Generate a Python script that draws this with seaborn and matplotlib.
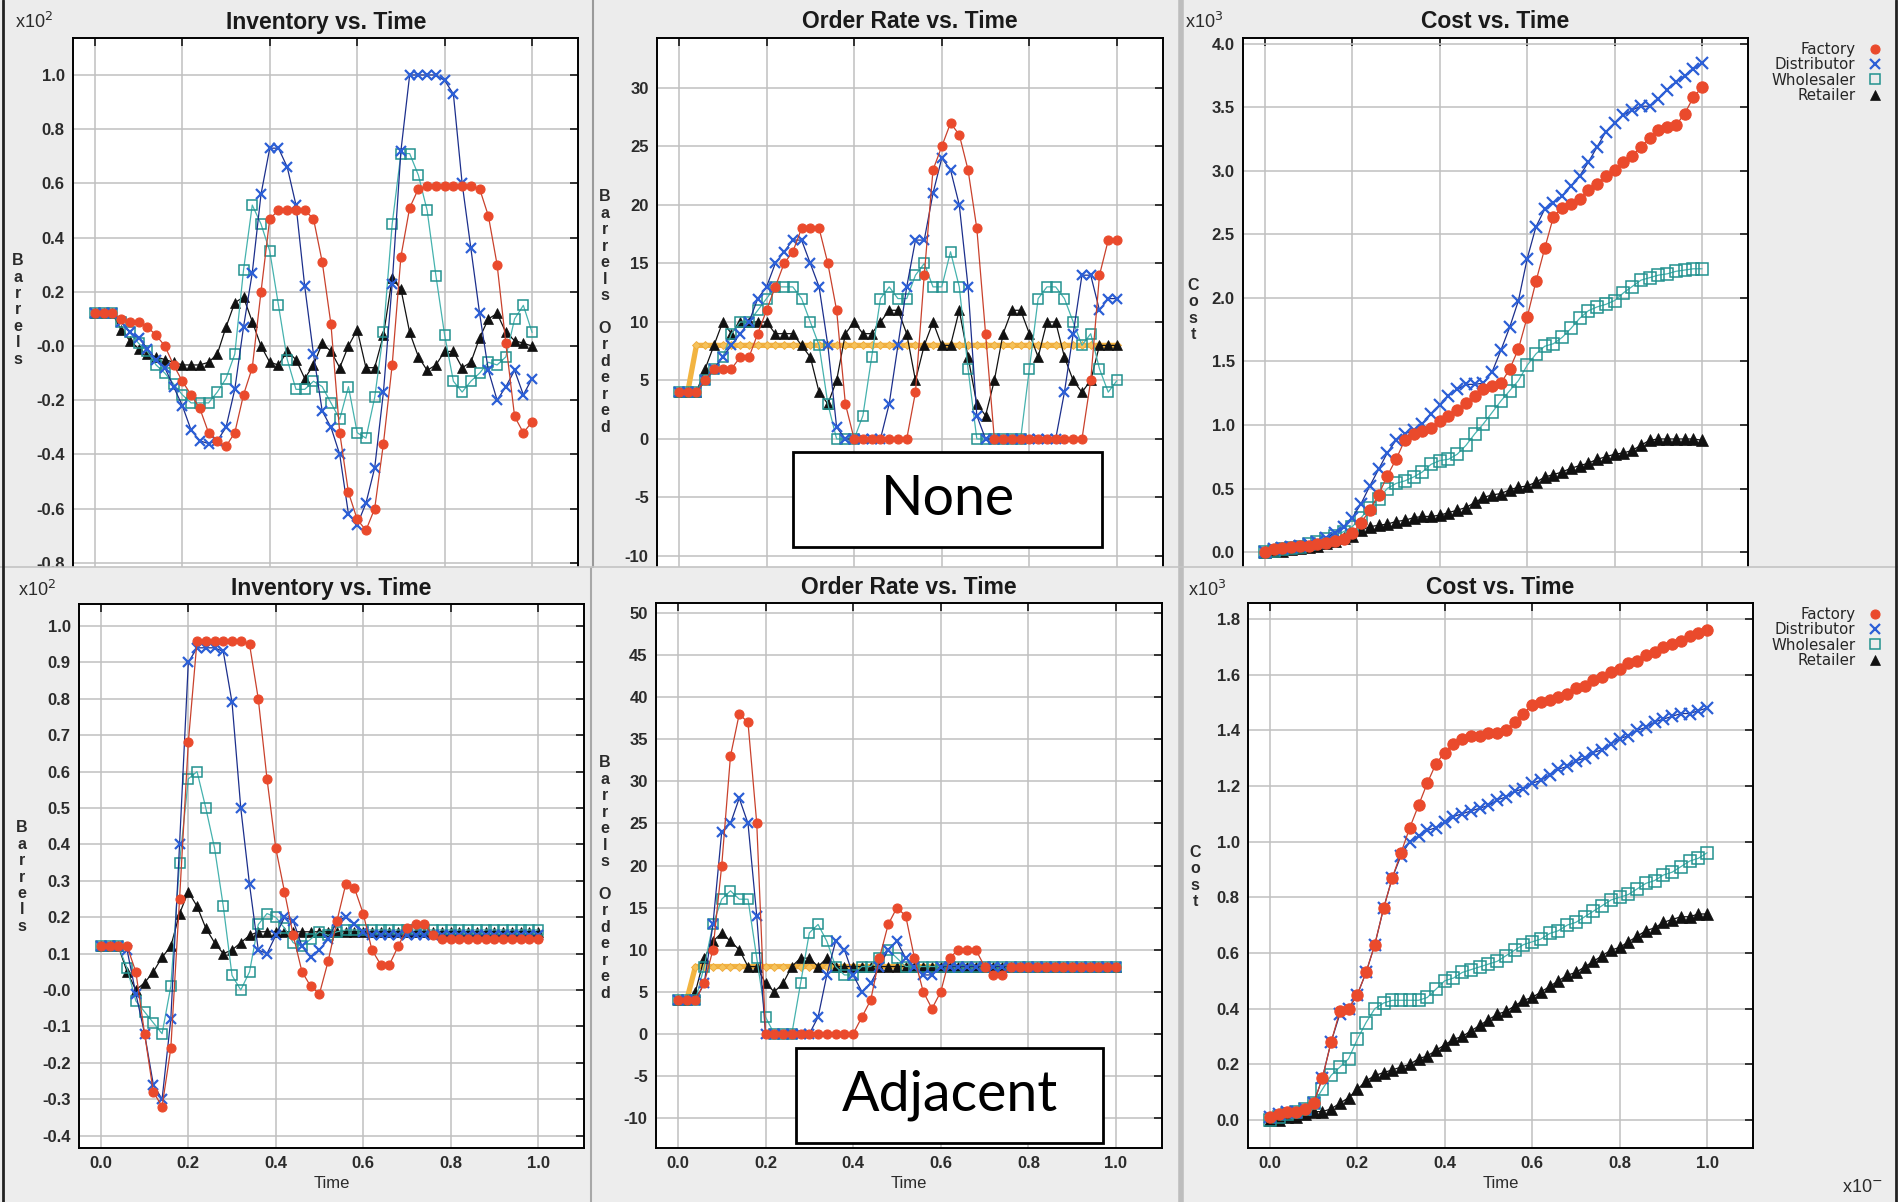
import matplotlib
matplotlib.use("Agg")
import matplotlib.pyplot as plt
from matplotlib.lines import Line2D
from matplotlib.patches import Rectangle
import seaborn as sns

W, H = 1899, 1202

TIME = [0.00, 0.02, 0.04, 0.06, 0.08, 0.10, 0.12, 0.14, 0.16, 0.18,
        0.20, 0.22, 0.24, 0.26, 0.28, 0.30, 0.32, 0.34, 0.36, 0.38,
        0.40, 0.42, 0.44, 0.46, 0.48, 0.50, 0.52, 0.54, 0.56, 0.58,
        0.60, 0.62, 0.64, 0.66, 0.68, 0.70, 0.72, 0.74, 0.76, 0.78,
        0.80, 0.82, 0.84, 0.86, 0.88, 0.90, 0.92, 0.94, 0.96, 0.98, 1.00]

# ---- scenario "None": inventory (x10^2 barrels) ----
NONE_INV_FACTORY = [0.12, 0.12, 0.12, 0.10, 0.09, 0.09, 0.07, 0.04, 0.00, -0.07,
                    -0.13, -0.18, -0.23, -0.32, -0.35, -0.37, -0.32, -0.18, -0.08, 0.20,
                    0.47, 0.50, 0.50, 0.50, 0.50, 0.47, 0.31, 0.08, -0.32, -0.54,
                    -0.64, -0.68, -0.60, -0.36, -0.07, 0.33, 0.51, 0.58, 0.59, 0.59,
                    0.59, 0.59, 0.59, 0.59, 0.58, 0.48, 0.30, 0.01, -0.26, -0.32, -0.28]
NONE_INV_DISTRIB = [0.12, 0.12, 0.12, 0.09, 0.05, 0.03, -0.01, -0.05, -0.08, -0.15,
                    -0.22, -0.31, -0.35, -0.36, -0.35, -0.30, -0.16, 0.07, 0.27, 0.56,
                    0.73, 0.73, 0.66, 0.52, 0.22, -0.03, -0.24, -0.30, -0.40, -0.62,
                    -0.66, -0.58, -0.45, -0.17, 0.23, 0.72, 1.00, 1.00, 1.00, 1.00,
                    0.98, 0.93, 0.60, 0.36, 0.12, -0.09, -0.20, -0.15, -0.09, -0.18, -0.12]
NONE_INV_WHOLESALE = [0.12, 0.12, 0.12, 0.09, 0.05, 0.01, -0.02, -0.07, -0.10, -0.14,
                      -0.18, -0.21, -0.21, -0.21, -0.17, -0.12, -0.03, 0.28, 0.52, 0.45,
                      0.35, 0.15, -0.05, -0.16, -0.16, -0.13, -0.15, -0.21, -0.27, -0.15,
                      -0.32, -0.34, -0.19, 0.05, 0.45, 0.71, 0.71, 0.63, 0.50, 0.26,
                      0.04, -0.13, -0.17, -0.13, -0.10, -0.06, -0.07, -0.04, 0.10, 0.15, 0.05]
NONE_INV_RETAIL = [0.12, 0.12, 0.12, 0.06, 0.02, -0.01, -0.03, -0.04, -0.05, -0.06,
                   -0.07, -0.07, -0.07, -0.06, -0.03, 0.07, 0.16, 0.18, 0.09, 0.00,
                   -0.06, -0.07, -0.02, -0.05, -0.12, -0.07, 0.01, -0.02, -0.08, 0.00,
                   0.06, -0.08, -0.08, 0.04, 0.25, 0.21, 0.05, -0.04, -0.09, -0.07,
                   -0.02, -0.02, -0.08, -0.06, 0.03, 0.10, 0.12, 0.05, 0.02, 0.01, 0.00]

# ---- scenario "None": order rate (barrels ordered) ----
NONE_ORD_FACTORY = [4, 4, 4, 5, 6, 6, 6, 7, 7, 9,
                    11, 13, 15, 16, 18, 18, 18, 15, 11, 3,
                    0, 0, 0, 0, 0, 0, 0, 4, 14, 23,
                    25, 27, 26, 23, 18, 9, 0, 0, 0, 0,
                    0, 0, 0, 0, 0, 0, 0, 5, 14, 17, 17]
NONE_ORD_DISTRIB = [4, 4, 4, 5, 6, 7, 8, 9, 10, 12,
                    13, 15, 16, 17, 17, 15, 13, 8, 1, 0,
                    0, 0, 0, 0, 3, 8, 13, 17, 17, 21,
                    24, 23, 20, 13, 2, 0, 0, 0, 0, 0,
                    0, 0, 0, 0, 4, 9, 14, 14, 11, 12, 12]
NONE_ORD_WHOLESALE = [4, 4, 4, 5, 6, 7, 9, 10, 10, 11,
                      12, 13, 13, 13, 12, 10, 8, 3, 0, 0,
                      0, 2, 7, 12, 13, 12, 12, 14, 15, 13,
                      13, 16, 13, 6, 0, 0, 0, 0, 0, 0,
                      6, 12, 13, 13, 12, 10, 8, 9, 6, 4, 5]
NONE_ORD_RETAIL = [4, 4, 4, 6, 8, 10, 9, 10, 10, 10,
                   10, 9, 9, 9, 8, 7, 4, 3, 5, 9,
                   10, 9, 9, 10, 11, 11, 9, 5, 8, 10,
                   8, 8, 11, 7, 3, 2, 5, 9, 11, 11,
                   9, 7, 10, 10, 7, 5, 4, 5, 8, 8, 8]

# ---- scenario "None": cost (x10^3) ----
NONE_COST_FACTORY = [0.00, 0.02, 0.03, 0.04, 0.05, 0.05, 0.06, 0.07, 0.09, 0.10,
                     0.15, 0.23, 0.33, 0.45, 0.60, 0.73, 0.88, 0.93, 0.95, 0.98,
                     1.03, 1.07, 1.12, 1.17, 1.23, 1.28, 1.31, 1.33, 1.44, 1.60,
                     1.85, 2.13, 2.39, 2.64, 2.71, 2.74, 2.78, 2.85, 2.90, 2.96,
                     3.01, 3.07, 3.12, 3.19, 3.26, 3.32, 3.35, 3.36, 3.45, 3.58, 3.66]
NONE_COST_DISTRIB = [0.00, 0.02, 0.03, 0.04, 0.05, 0.06, 0.08, 0.11, 0.15, 0.20,
                     0.27, 0.38, 0.52, 0.65, 0.78, 0.88, 0.93, 0.96, 1.01, 1.09,
                     1.16, 1.23, 1.28, 1.32, 1.32, 1.33, 1.42, 1.59, 1.77, 1.98,
                     2.31, 2.56, 2.70, 2.75, 2.80, 2.88, 2.96, 3.07, 3.19, 3.31,
                     3.38, 3.44, 3.48, 3.51, 3.51, 3.57, 3.64, 3.70, 3.75, 3.80, 3.85]
NONE_COST_WHOLESALE = [0.00, 0.01, 0.02, 0.03, 0.04, 0.06, 0.08, 0.10, 0.13, 0.16,
                       0.20, 0.27, 0.35, 0.42, 0.50, 0.54, 0.56, 0.59, 0.63, 0.69,
                       0.72, 0.73, 0.77, 0.84, 0.93, 1.01, 1.10, 1.19, 1.27, 1.35,
                       1.47, 1.56, 1.62, 1.64, 1.69, 1.76, 1.84, 1.90, 1.93, 1.95,
                       1.98, 2.04, 2.09, 2.14, 2.16, 2.18, 2.19, 2.21, 2.22, 2.23, 2.23]
NONE_COST_RETAIL = [0.00, 0.01, 0.01, 0.02, 0.03, 0.04, 0.05, 0.07, 0.09, 0.11,
                    0.13, 0.17, 0.20, 0.21, 0.22, 0.24, 0.25, 0.27, 0.28, 0.28,
                    0.29, 0.31, 0.33, 0.35, 0.39, 0.43, 0.45, 0.46, 0.49, 0.51,
                    0.52, 0.55, 0.59, 0.61, 0.63, 0.66, 0.68, 0.70, 0.73, 0.75,
                    0.77, 0.78, 0.80, 0.84, 0.88, 0.89, 0.89, 0.89, 0.89, 0.89, 0.88]

# ---- scenario "Adjacent": inventory (x10^2 barrels) ----
ADJ_INV_FACTORY = [0.12, 0.12, 0.12, 0.12, 0.05, -0.12, -0.28, -0.32, -0.16, 0.25,
                   0.68, 0.96, 0.96, 0.96, 0.96, 0.96, 0.96, 0.95, 0.80, 0.58,
                   0.39, 0.27, 0.15, 0.05, 0.01, -0.01, 0.08, 0.19, 0.29, 0.28,
                   0.21, 0.11, 0.07, 0.07, 0.12, 0.17, 0.18, 0.18, 0.15, 0.14,
                   0.14, 0.14, 0.14, 0.14, 0.14, 0.14, 0.14, 0.14, 0.14, 0.14, 0.14]
ADJ_INV_DISTRIB = [0.12, 0.12, 0.12, 0.11, -0.01, -0.12, -0.26, -0.30, -0.08, 0.40,
                   0.90, 0.94, 0.94, 0.94, 0.93, 0.79, 0.50, 0.29, 0.11, 0.10,
                   0.15, 0.20, 0.19, 0.12, 0.09, 0.11, 0.14, 0.19, 0.20, 0.18,
                   0.16, 0.15, 0.15, 0.15, 0.15, 0.15, 0.15, 0.15, 0.15, 0.15,
                   0.15, 0.15, 0.15, 0.15, 0.15, 0.15, 0.15, 0.15, 0.15, 0.15, 0.15]
ADJ_INV_WHOLESALE = [0.12, 0.12, 0.12, 0.06, -0.03, -0.06, -0.09, -0.12, 0.01, 0.35,
                     0.58, 0.60, 0.50, 0.39, 0.23, 0.04, 0.00, 0.05, 0.18, 0.21,
                     0.20, 0.17, 0.13, 0.12, 0.14, 0.16, 0.15, 0.16, 0.165, 0.165,
                     0.165, 0.165, 0.165, 0.165, 0.165, 0.165, 0.165, 0.165, 0.165, 0.165,
                     0.165, 0.165, 0.165, 0.165, 0.165, 0.165, 0.165, 0.165, 0.165, 0.165, 0.165]
ADJ_INV_RETAIL = [0.12, 0.12, 0.12, 0.05, 0.00, 0.02, 0.05, 0.09, 0.12, 0.21,
                  0.27, 0.23, 0.17, 0.13, 0.10, 0.11, 0.13, 0.15, 0.16, 0.16,
                  0.16, 0.16, 0.16, 0.16, 0.16, 0.16, 0.16, 0.16, 0.16, 0.16,
                  0.16, 0.16, 0.16, 0.16, 0.16, 0.16, 0.16, 0.16, 0.16, 0.16,
                  0.16, 0.16, 0.16, 0.16, 0.16, 0.16, 0.16, 0.16, 0.16, 0.16, 0.16]

# ---- scenario "Adjacent": order rate ----
ADJ_ORD_FACTORY = [4, 4, 4, 6, 10, 20, 33, 38, 37, 25,
                   0, 0, 0, 0, 0, 0, 0, 0, 0, 0,
                   0, 2, 4, 9, 13, 15, 14, 9, 5, 3,
                   5, 9, 10, 10, 10, 8, 7, 7, 8, 8,
                   8, 8, 8, 8, 8, 8, 8, 8, 8, 8, 8]
ADJ_ORD_DISTRIB = [4, 4, 4, 6, 13, 24, 25, 28, 25, 14,
                   0, 0, 0, 0, 0, 0, 2, 7, 11, 10,
                   7, 5, 6, 8, 10, 11, 9, 8, 7, 7,
                   8, 8, 8, 8, 8, 8, 8, 8, 8, 8,
                   8, 8, 8, 8, 8, 8, 8, 8, 8, 8, 8]
ADJ_ORD_WHOLESALE = [4, 4, 4, 8, 13, 16, 17, 16, 16, 9,
                     2, 0, 0, 0, 6, 12, 13, 11, 8, 7,
                     7, 8, 8, 9, 10, 9, 8, 8, 8, 8,
                     8, 8, 8, 8, 8, 8, 8, 8, 8, 8,
                     8, 8, 8, 8, 8, 8, 8, 8, 8, 8, 8]
ADJ_ORD_RETAIL = [4, 4, 5, 9, 11, 12, 11, 10, 8, 8,
                  6, 5, 6, 8, 9, 9, 8, 9, 8, 8,
                  8, 8, 8, 8, 8, 8, 8, 8, 8, 8,
                  8, 8, 8, 8, 8, 8, 8, 8, 8, 8,
                  8, 8, 8, 8, 8, 8, 8, 8, 8, 8, 8]

# customer demand (orange line) in both order-rate panels
CUSTOMER_DEMAND = [4, 4, 8, 8, 8, 8, 8, 8, 8, 8,
                   8, 8, 8, 8, 8, 8, 8, 8, 8, 8,
                   8, 8, 8, 8, 8, 8, 8, 8, 8, 8,
                   8, 8, 8, 8, 8, 8, 8, 8, 8, 8,
                   8, 8, 8, 8, 8, 8, 8, 8, 8, 8, 8]

# ---- scenario "Adjacent": cost (x10^3) ----
ADJ_COST_FACTORY = [0.01, 0.02, 0.03, 0.03, 0.04, 0.06, 0.15, 0.28, 0.39, 0.40,
                    0.45, 0.53, 0.63, 0.76, 0.87, 0.96, 1.05, 1.13, 1.21, 1.28,
                    1.32, 1.35, 1.37, 1.38, 1.38, 1.39, 1.39, 1.40, 1.43, 1.46,
                    1.49, 1.50, 1.51, 1.52, 1.53, 1.55, 1.56, 1.58, 1.59, 1.61,
                    1.62, 1.64, 1.65, 1.67, 1.68, 1.70, 1.71, 1.72, 1.74, 1.75, 1.76]
ADJ_COST_DISTRIB = [0.01, 0.02, 0.03, 0.03, 0.04, 0.06, 0.15, 0.28, 0.38, 0.40,
                    0.45, 0.53, 0.63, 0.76, 0.87, 0.95, 1.00, 1.02, 1.04, 1.05,
                    1.07, 1.09, 1.10, 1.11, 1.12, 1.13, 1.15, 1.16, 1.18, 1.19,
                    1.21, 1.22, 1.24, 1.26, 1.27, 1.29, 1.30, 1.32, 1.33, 1.35,
                    1.37, 1.38, 1.40, 1.41, 1.43, 1.44, 1.45, 1.46, 1.46, 1.47, 1.48]
ADJ_COST_WHOLESALE = [0.00, 0.01, 0.02, 0.03, 0.04, 0.06, 0.11, 0.16, 0.19, 0.22,
                      0.29, 0.35, 0.40, 0.42, 0.43, 0.43, 0.43, 0.43, 0.44, 0.47,
                      0.50, 0.51, 0.53, 0.54, 0.55, 0.56, 0.57, 0.59, 0.61, 0.63,
                      0.64, 0.65, 0.67, 0.68, 0.70, 0.71, 0.73, 0.75, 0.77, 0.79,
                      0.80, 0.81, 0.83, 0.85, 0.86, 0.88, 0.89, 0.91, 0.93, 0.94, 0.96]
ADJ_COST_RETAIL = [0.00, 0.00, 0.01, 0.01, 0.02, 0.03, 0.03, 0.04, 0.06, 0.08,
                   0.11, 0.14, 0.16, 0.17, 0.18, 0.19, 0.20, 0.22, 0.23, 0.25,
                   0.27, 0.29, 0.30, 0.32, 0.34, 0.36, 0.38, 0.39, 0.41, 0.43,
                   0.44, 0.46, 0.48, 0.50, 0.52, 0.53, 0.55, 0.57, 0.59, 0.61,
                   0.62, 0.64, 0.66, 0.68, 0.69, 0.71, 0.72, 0.73, 0.73, 0.74, 0.74]

X_TICKS = [0.0, 0.2, 0.4, 0.6, 0.8, 1.0]
X_LABELS = ["0.0", "0.2", "0.4", "0.6", "0.8", "1.0"]
INV_TOP_TICKS = [-0.8, -0.6, -0.4, -0.2, 0.0, 0.2, 0.4, 0.6, 0.8, 1.0]
INV_TOP_LABELS = ["-0.8", "-0.6", "-0.4", "-0.2", "-0.0", "0.2", "0.4", "0.6", "0.8", "1.0"]
INV_BOT_TICKS = [-0.4, -0.3, -0.2, -0.1, 0.0, 0.1, 0.2, 0.3, 0.4, 0.5, 0.6, 0.7, 0.8, 0.9, 1.0]
INV_BOT_LABELS = ["-0.4", "-0.3", "-0.2", "-0.1", "-0.0", "0.1", "0.2", "0.3", "0.4",
                  "0.5", "0.6", "0.7", "0.8", "0.9", "1.0"]
ORD_TOP_TICKS = [-10, -5, 0, 5, 10, 15, 20, 25, 30]
ORD_BOT_TICKS = [-10, -5, 0, 5, 10, 15, 20, 25, 30, 35, 40, 45, 50]
COST_TOP_TICKS = [0.0, 0.5, 1.0, 1.5, 2.0, 2.5, 3.0, 3.5, 4.0]
COST_BOT_TICKS = [0.0, 0.2, 0.4, 0.6, 0.8, 1.0, 1.2, 1.4, 1.6, 1.8]

NAMES = ["Factory", "Distributor", "Wholesaler", "Retailer"]

sns.set_theme(style="white")
plt.rcParams["font.family"] = ["Liberation Sans", "DejaVu Sans"]

MARKERS = {
    "Factory": dict(marker="o", markersize=6.5, markerfacecolor="#ea4a2c",
                    markeredgecolor="#ea4a2c", markeredgewidth=0.8),
    "Distributor": dict(marker="x", markersize=6.5, markerfacecolor="#2c5fd6",
                        markeredgecolor="#2c5fd6", markeredgewidth=1.6),
    "Wholesaler": dict(marker="s", markersize=7, markerfacecolor="none",
                       markeredgecolor="#23928f", markeredgewidth=1.1),
    "Retailer": dict(marker="^", markersize=6.5, markerfacecolor="#111111",
                     markeredgecolor="#111111", markeredgewidth=0.5),
}
LINE_COLORS = {"Factory": "#c9412c", "Distributor": "#1c2f8c",
               "Wholesaler": "#45b2ae", "Retailer": "#111111"}

fig = plt.figure(figsize=(W / 100, H / 100), dpi=100, facecolor="#ececec")


def add_panel(left, top, right, bottom, z):
    ax = fig.add_axes([left / W, 1 - bottom / H, (right - left) / W, (bottom - top) / H])
    ax.set_zorder(z)
    return ax


def draw_panel(ax, series, ylim, yticks, ylabels, cut, demand=False, msize=1.0):
    if demand:
        sns.lineplot(x=TIME, y=CUSTOMER_DEMAND, ax=ax, estimator=None, sort=False,
                     legend=False, color="#f2b441", linewidth=3.8, marker="D",
                     markersize=3.8, markerfacecolor="#f5c25a",
                     markeredgecolor="#eea83a", markeredgewidth=0.6)
    # draw back-to-front so Factory ends on top
    for name in ["Retailer", "Wholesaler", "Distributor", "Factory"]:
        kw = dict(MARKERS[name])
        kw["markersize"] *= msize
        sns.lineplot(x=TIME, y=series[name], ax=ax, estimator=None, sort=False,
                     legend=False, color=LINE_COLORS[name], linewidth=0.9, **kw)
    ax.set_xlim(-0.05, 1.105)
    ax.set_ylim(*ylim)
    ax.set_xticks(X_TICKS)
    ax.set_yticks(yticks)
    ax.set_yticklabels(ylabels, fontweight="bold")
    ax.grid(True, color="#c0c0c0", linewidth=1.1)
    ax.set_axisbelow(True)
    ax.tick_params(direction="in", length=6, width=1.3, top=True, right=True,
                   labelsize=12, pad=6, labelcolor="#2b2b2b")
    for s in ax.spines.values():
        s.set_linewidth(1.4)
        s.set_color("black")
    ax.set_ylabel("")
    if cut:
        ax.spines["bottom"].set_visible(False)
        ax.tick_params(bottom=False, labelbottom=False)
        ax.set_xlabel("")
    else:
        ax.set_xticklabels(X_LABELS, fontweight="bold")
        ax.set_xlabel("Time", fontsize=12, labelpad=3, color="#2b2b2b")


def px_text(x, y, s, **kw):
    fig.text(x / W, 1 - y / H, s, **kw)


# ---------- top row: "None" ----------
ax1 = add_panel(73, 38, 578, 567, 0)
draw_panel(ax1, dict(zip(NAMES, [NONE_INV_FACTORY, NONE_INV_DISTRIB, NONE_INV_WHOLESALE, NONE_INV_RETAIL])),
           (-0.8155, 1.1365), INV_TOP_TICKS, INV_TOP_LABELS, cut=True)
ax2 = add_panel(657, 38, 1163, 567, 0)
draw_panel(ax2, dict(zip(NAMES, [NONE_ORD_FACTORY, NONE_ORD_DISTRIB, NONE_ORD_WHOLESALE, NONE_ORD_RETAIL])),
           (-10.94, 34.27), ORD_TOP_TICKS, [str(v) for v in ORD_TOP_TICKS], cut=True, demand=True)
ax3 = add_panel(1243, 38, 1748, 567, 0)
draw_panel(ax3, dict(zip(NAMES, [NONE_COST_FACTORY, NONE_COST_DISTRIB, NONE_COST_WHOLESALE, NONE_COST_RETAIL])),
           (-0.118, 4.047), COST_TOP_TICKS, [f"{v:.1f}" for v in COST_TOP_TICKS], cut=True, msize=1.25)

# background for the bottom screenshot, covers whatever of the top row spills below
fig.add_artist(Rectangle((0, 0), 1, 1 - 567 / H, transform=fig.transFigure,
                         facecolor="#ededed", edgecolor="none", zorder=0.5))

# ---------- bottom row: "Adjacent" ----------
ax4 = add_panel(79, 604, 584, 1148, 1)
draw_panel(ax4, dict(zip(NAMES, [ADJ_INV_FACTORY, ADJ_INV_DISTRIB, ADJ_INV_WHOLESALE, ADJ_INV_RETAIL])),
           (-0.434, 1.0604), INV_BOT_TICKS, INV_BOT_LABELS, cut=False)
ax5 = add_panel(656, 603, 1162, 1148, 1)
draw_panel(ax5, dict(zip(NAMES, [ADJ_ORD_FACTORY, ADJ_ORD_DISTRIB, ADJ_ORD_WHOLESALE, ADJ_ORD_RETAIL])),
           (-13.56, 51.19), ORD_BOT_TICKS, [str(v) for v in ORD_BOT_TICKS], cut=False, demand=True)
ax6 = add_panel(1248, 603, 1753, 1148, 1)
draw_panel(ax6, dict(zip(NAMES, [ADJ_COST_FACTORY, ADJ_COST_DISTRIB, ADJ_COST_WHOLESALE, ADJ_COST_RETAIL])),
           (-0.1006, 1.857), COST_BOT_TICKS, [f"{v:.1f}" for v in COST_BOT_TICKS], cut=False, msize=1.25)

# titles
title_kw = dict(ha="center", va="center", fontsize=16.5, fontweight="bold", color="#1a1a1a")
px_text(326, 22, "Inventory vs. Time", **title_kw)
px_text(910, 22, "Order Rate vs. Time", **title_kw)
px_text(1495, 22, "Cost vs. Time", **title_kw)
px_text(331, 588, "Inventory vs. Time", **title_kw)
px_text(909, 588, "Order Rate vs. Time", **title_kw)
px_text(1500, 588, "Cost vs. Time", **title_kw)

# stacked y labels
stack_kw = dict(ha="center", va="center", fontsize=11.5, fontweight="bold",
                linespacing=1.12, color="#2b2b2b")
px_text(18, 310, "\n".join("Barrels"), **stack_kw)
px_text(22, 877, "\n".join("Barrels"), **stack_kw)
px_text(605, 312, "\n".join("Barrels Ordered"), **stack_kw)
px_text(605, 878, "\n".join("Barrels Ordered"), **stack_kw)
px_text(1193, 310, "\n".join("Cost"), **stack_kw)
px_text(1195, 877, "\n".join("Cost"), **stack_kw)

# axis multipliers
mult_kw = dict(ha="center", va="center", fontsize=13, color="#2b2b2b")
px_text(34, 22, r"x10$^2$", **mult_kw)
px_text(37, 590, r"x10$^2$", **mult_kw)
px_text(1204, 22, r"x10$^3$", **mult_kw)
px_text(1207, 590, r"x10$^3$", **mult_kw)
px_text(1862, 1187, r"x10$^{-}$", **mult_kw)

# legends (markers only, text right-aligned)
handles = [Line2D([], [], linestyle="none", **MARKERS[n]) for n in NAMES]
for ax, top in [(ax3, 42), (ax6, 607)]:
    ax.legend(handles, NAMES, loc="upper right", bbox_to_anchor=(1881 / W, 1 - top / H),
              bbox_transform=fig.transFigure, markerfirst=False, frameon=False,
              prop=dict(family="DejaVu Sans", size=10.8), handlelength=0.8,
              handletextpad=0.9, labelspacing=0.02, borderpad=0, borderaxespad=0)

# screenshot separators and frame
line_kw = dict(transform=fig.transFigure)
fig.add_artist(Line2D([593 / W, 593 / W], [1 - 567 / H, 1], color="#9a9a9a", lw=1.5, zorder=0.6, **line_kw))
fig.add_artist(Line2D([591 / W, 591 / W], [0, 1 - 568 / H], color="#a8a8a8", lw=1.5, zorder=0.6, **line_kw))
fig.add_artist(Line2D([1181 / W, 1181 / W], [0, 1], color="#bdbdbd", lw=4, zorder=0.6, **line_kw))
fig.add_artist(Line2D([0, 1], [1 - 567 / H, 1 - 567 / H], color="#c4c4c4", lw=1.2, zorder=0.6, **line_kw))
fig.add_artist(Line2D([3 / W, 3 / W], [0, 1], color="#222222", lw=2, zorder=0.6, **line_kw))
fig.add_artist(Line2D([1896 / W, 1896 / W], [0, 1], color="#222222", lw=2, zorder=0.6, **line_kw))

# scenario labels
for (l, t, r, b), label in [((793, 452, 1102, 547), "None"),
                            ((796, 1048, 1103, 1143), "Adjacent")]:
    fig.add_artist(Rectangle((l / W, 1 - b / H), (r - l) / W, (b - t) / H,
                             transform=fig.transFigure, facecolor="white",
                             edgecolor="black", linewidth=2, zorder=3))
    fig.text((l + r) / 2 / W, 1 - (t + b) / 2 / H, label, ha="center", va="center",
             fontsize=40, family=["Lato", "DejaVu Sans"], color="black", zorder=4)

fig.savefig("out.png", dpi=100, facecolor=fig.get_facecolor())
